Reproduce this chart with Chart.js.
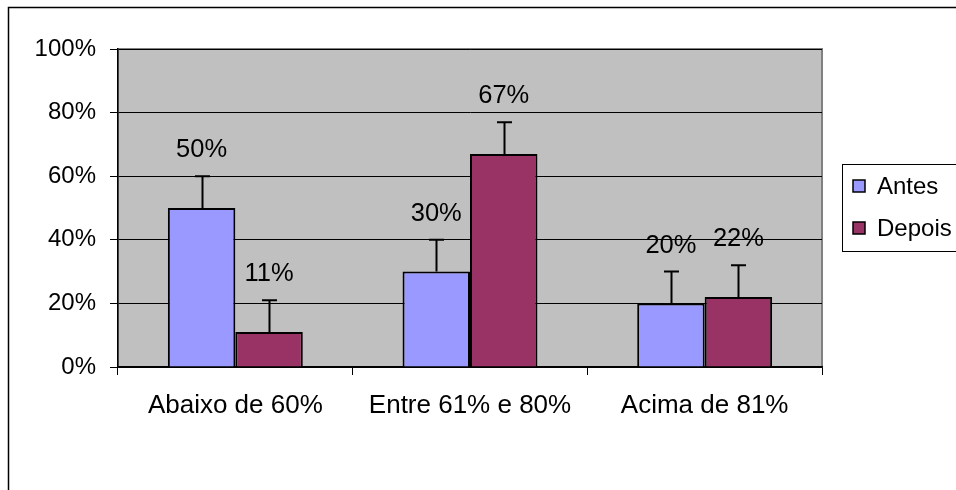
<!DOCTYPE html>
<html>
<head>
<meta charset="utf-8">
<script src="https://cdn.jsdelivr.net/npm/chart.js@4/dist/chart.umd.min.js"></script>
<style>
html,body{margin:0;padding:0;background:#fff;}
canvas{display:block;}
</style>
</head>
<body>
<canvas id="c" width="956" height="490"></canvas>
<script>
const categories = ["Abaixo de 60%", "Entre 61% e 80%", "Acima de 81%"];
const antes = [50, 30, 20];
const depois = [11, 67, 22];
const errAntes = [10, 10, 10];
const errDepois = [10, 10, 10];
const seriesNames = ["Antes", "Depois"];
const yTicks = [0, 20, 40, 60, 80, 100];

const FONT = "'Liberation Sans', Arial, sans-serif";

const framePlugin = {
  id: 'frame',
  beforeDraw(chart) {
    const ctx = chart.ctx, a = chart.chartArea;
    ctx.save();
    ctx.fillStyle = '#fff';
    ctx.fillRect(0, 0, chart.width, chart.height);
    ctx.strokeStyle = '#000';
    ctx.lineWidth = 1.5;
    ctx.beginPath();
    ctx.moveTo(8.5, chart.height);
    ctx.lineTo(8.5, 7.5);
    ctx.lineTo(chart.width, 7.5);
    ctx.stroke();
    ctx.fillStyle = '#C0C0C0';
    ctx.fillRect(a.left, a.top, a.right - a.left, a.bottom - a.top);
    ctx.strokeStyle = '#808080';
    ctx.lineWidth = 2;
    ctx.strokeRect(a.left, a.top, a.right - a.left, a.bottom - a.top);
    ctx.restore();
  }
};

const errLabelPlugin = {
  id: 'errlabels',
  afterDatasetsDraw(chart) {
    const ctx = chart.ctx, y = chart.scales.y;
    const errs = [errAntes, errDepois];
    ctx.save();
    chart.data.datasets.forEach((ds, di) => {
      const meta = chart.getDatasetMeta(di);
      meta.data.forEach((bar, i) => {
        const v = ds.data[i];
        const top = y.getPixelForValue(v + errs[di][i]);
        const x = Math.round(bar.x) + 0.5;
        ctx.strokeStyle = '#000';
        ctx.lineWidth = 2;
        ctx.beginPath();
        ctx.moveTo(x, bar.y);
        ctx.lineTo(x, top);
        ctx.moveTo(x - 7.5, top);
        ctx.lineTo(x + 7.5, top);
        ctx.stroke();
        ctx.fillStyle = '#000';
        ctx.font = '25.5px ' + FONT;
        ctx.textAlign = 'center';
        ctx.textBaseline = 'middle';
        ctx.fillText(v + '%', bar.x, top - 26);
      });
    });
    ctx.restore();
  }
};

const legendPlugin = {
  id: 'customLegend',
  afterDraw(chart) {
    const ctx = chart.ctx;
    ctx.save();
    ctx.strokeStyle = '#000';
    ctx.lineWidth = 1;
    ctx.strokeRect(842.5, 164.5, 140, 87);
    const items = chart.data.datasets;
    const ys = [186, 228];
    items.forEach((ds, i) => {
      ctx.fillStyle = ds.backgroundColor;
      ctx.fillRect(853, ys[i] - 6, 12, 12);
      ctx.strokeStyle = '#000';
      ctx.lineWidth = 1.5;
      ctx.strokeRect(853, ys[i] - 6, 12, 12);
      ctx.fillStyle = '#000';
      ctx.font = '24px ' + FONT;
      ctx.textAlign = 'left';
      ctx.textBaseline = 'middle';
      ctx.fillText(ds.label, 877, ys[i] + 1);
    });
    ctx.restore();
  }
};

new Chart(document.getElementById('c'), {
  type: 'bar',
  data: {
    labels: categories,
    datasets: [
      { label: seriesNames[0], data: antes, backgroundColor: '#9999FF', borderColor: '#000', borderWidth: 2 },
      { label: seriesNames[1], data: depois, backgroundColor: '#993366', borderColor: '#000', borderWidth: 2 }
    ]
  },
  options: {
    responsive: false,
    animation: false,
    devicePixelRatio: 1,
    layout: { padding: { left: 0, top: 49, right: 134, bottom: 0 } },
    datasets: { bar: { categoryPercentage: 0.575, barPercentage: 1.0 } },
    plugins: { legend: { display: false }, tooltip: { enabled: false } },
    scales: {
      x: {
        offset: true,
        grid: { offset: true, drawOnChartArea: false, color: '#000', tickLength: 8, lineWidth: 1 },
        border: { color: '#000', width: 1.5 },
        ticks: { color: '#000', font: { size: 26, family: FONT }, padding: 15, maxRotation: 0 },
        afterFit(s) { s.height = 123; }
      },
      y: {
        min: 0, max: 100,
        afterBuildTicks(s) { s.ticks = yTicks.map(v => ({ value: v })); },
        grid: { color: '#000', tickLength: 8, lineWidth: 1 },
        border: { color: '#000', width: 1.5 },
        ticks: { color: '#000', font: { size: 24, family: FONT }, padding: 14, callback: v => v + '%' },
        afterFit(s) { s.width = 118; }
      }
    }
  },
  plugins: [framePlugin, errLabelPlugin, legendPlugin]
});
</script>
</body>
</html>
